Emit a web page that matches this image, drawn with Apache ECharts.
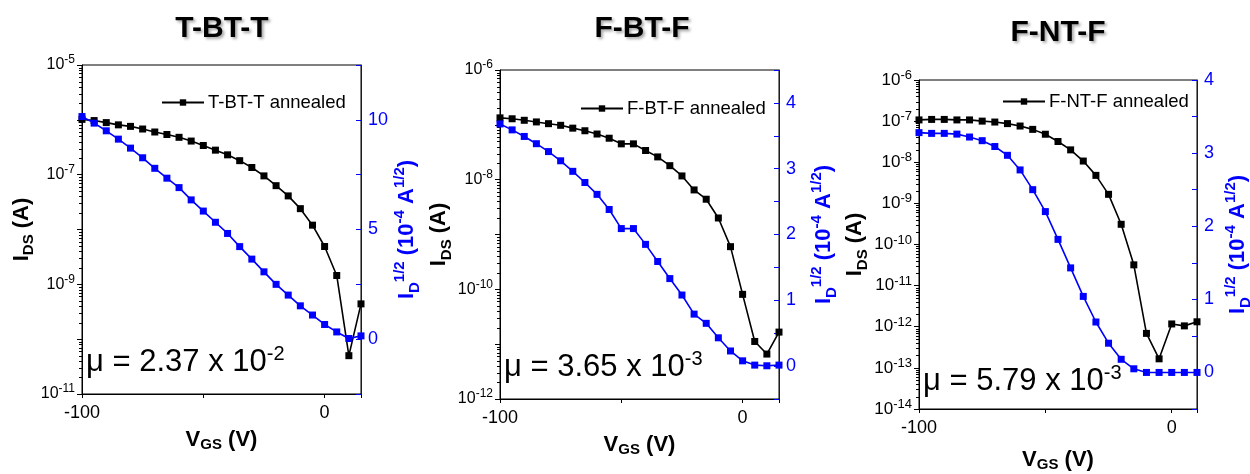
<!DOCTYPE html>
<html><head><meta charset="utf-8">
<script src="https://cdn.jsdelivr.net/npm/echarts@6/dist/echarts.min.js"></script>
<style>html,body{margin:0;padding:0;background:#fff}#c{width:1250px;height:474px}</style>
</head><body><div id="c"></div>
<script>
// ---- data ----
const titles = ['T-BT-T', 'F-BT-F', 'F-NT-F'];
const legendNames = ['T-BT-T annealed', 'F-BT-F annealed', 'F-NT-F annealed'];
const mobility = [['2.37', '-2'], ['3.65', '-3'], ['5.79', '-3']];

const vgs12 = [-100,-95,-90,-85,-80,-75,-70,-65,-60,-55,-50,-45,-40,-35,-30,-25,-20,-15,-10,-5,0,5,10,15];
const vgs3 = [-100,-95,-90,-85,-80,-75,-70,-65,-60,-55,-50,-45,-40,-35,-30,-25,-20,-15,-10,-5,0,5,10];

const ids1 = [1.02e-6,9.7e-7,8.9e-7,8.1e-7,7.6e-7,6.8e-7,6.0e-7,5.4e-7,4.8e-7,4.1e-7,3.4e-7,2.8e-7,2.3e-7,1.8e-7,1.35e-7,9.5e-8,6.3e-8,4.1e-8,2.4e-8,1.2e-8,4.9e-9,1.45e-9,5.0e-11,4.4e-10];
const sqrt1 = [10.15,9.85,9.50,9.12,8.71,8.27,7.79,7.34,6.91,6.35,5.84,5.33,4.82,4.22,3.65,3.07,2.50,2.01,1.52,1.10,0.67,0.33,0.03,0.15];

const ids2 = [1.34e-7,1.29e-7,1.21e-7,1.13e-7,1.05e-7,9.8e-8,8.7e-8,7.8e-8,6.8e-8,5.7e-8,4.5e-8,4.5e-8,3.4e-8,2.6e-8,1.8e-8,1.17e-8,6.5e-9,4.4e-9,2.0e-9,6.0e-10,8.1e-11,1.12e-11,6.6e-12,1.66e-11];
const sqrt2 = [3.68,3.59,3.49,3.38,3.26,3.12,2.96,2.79,2.61,2.38,2.09,2.09,1.85,1.59,1.33,1.08,0.79,0.65,0.43,0.23,0.08,0.015,0.005,0.015];

const ids3 = [1.07e-7,1.1e-7,1.1e-7,1.07e-7,1.07e-7,1.0e-7,9.5e-8,8.7e-8,7.6e-8,6.3e-8,4.8e-8,3.2e-8,2.0e-8,1.07e-8,4.8e-9,1.66e-9,3.1e-10,3.2e-11,6.9e-13,1.66e-13,1.17e-12,1.05e-12,1.32e-12];
const sqrt3 = [3.28,3.27,3.27,3.26,3.22,3.17,3.09,2.97,2.77,2.50,2.20,1.82,1.43,1.04,0.69,0.40,0.18,0.05,0.0,0.0,0.0,0.0,0.0];

const xMax = [15, 15, 10];
const logExpMin = [-11, -12, -14];
const logExpMax = [-5, -6, -6];
const logLabelParity = [1, 0, null]; // which exponents get a label (odd / even / all)
const rightMin = [-2.5, -0.5, -0.5];
const rightMax = [12.5, 4.5, 4];
const rightStep = [2.5, 0.5, 0.5];
const rightLabelStep = [5, 1, 1];
const minorMantissas = [2, 3, 4, 5, 6, 7, 8, 9];

// ---- layout ----
const grids = [
  {left: 82, top: 65, width: 279, height: 329},
  {left: 500, top: 70, width: 279, height: 329},
  {left: 919, top: 80, width: 278, height: 329}
];
const FONT = '"Liberation Sans", Arial, sans-serif';
const BLUE = '#0000ff';

const xsList = [vgs12, vgs12, vgs3];
const idsList = [ids1, ids2, ids3];
const sqrtList = [sqrt1, sqrt2, sqrt3];

const option = {
  animation: false,
  backgroundColor: '#fff',
  textStyle: {fontFamily: FONT},
  grid: grids.map(g => Object.assign({show: true, borderColor: '#000', borderWidth: 1,
    backgroundColor: 'transparent', containLabel: false, outerBoundsMode: 'none'}, g)),
  legend: [],
  xAxis: [], yAxis: [], series: [], graphic: []
};

const nameRich = {
  b: {fontSize: 22, fontWeight: 'bold', fontFamily: FONT, lineHeight: 30},
  sub: {fontSize: 15, fontWeight: 'bold', fontFamily: FONT, verticalAlign: 'bottom', lineHeight: 22},
  sup: {fontSize: 15, fontWeight: 'bold', fontFamily: FONT, verticalAlign: 'top', lineHeight: 18}
};
const xNameRich = {
  b: {fontSize: 22, fontWeight: 'bold', fontFamily: FONT, lineHeight: 24},
  sub: {fontSize: 15, fontWeight: 'bold', fontFamily: FONT, verticalAlign: 'bottom', lineHeight: 18}
};
function tickRich(big) {
  return {
    n: {fontSize: big ? 17 : 16, fontFamily: FONT, color: '#000', lineHeight: 22},
    s: {fontSize: big ? 13 : 12, fontFamily: FONT, color: '#000', verticalAlign: 'top', lineHeight: 12}
  };
}

for (let i = 0; i < 3; i++) {
  const logMin = Math.pow(10, logExpMin[i]);
  const logMax = Math.pow(10, logExpMax[i]);
  option.xAxis.push({
    gridIndex: i, type: 'value', min: -100, max: xMax[i], interval: 50,
    axisLine: {show: true, onZero: false, lineStyle: {color: '#000', width: 1}},
    axisTick: {show: true, inside: false, length: 4, lineStyle: {color: '#000'}},
    axisLabel: {fontSize: 18, color: '#000', fontFamily: FONT, margin: 10,
      formatter: v => (v === -100 || v === 0) ? String(v) : ''},
    splitLine: {show: false},
    name: '{b|V}{sub|GS}{b| (V)}', nameLocation: 'middle', nameGap: [34, 34, 39][i],
    nameTextStyle: {color: '#000', rich: xNameRich}
  });
  const par = logLabelParity[i];
  option.yAxis.push({
    gridIndex: i, type: 'log', logBase: 10, min: logMin, max: logMax,
    splitNumber: logExpMax[i] - logExpMin[i],
    position: 'left',
    axisLine: {show: true, onZero: false, lineStyle: {color: '#000', width: 1}},
    axisTick: {show: true, inside: false, length: 5, lineStyle: {color: '#000'}},
    axisLabel: {margin: 7, rich: tickRich(i === 2), formatter: v => {
      const e = Math.round(Math.log10(v));
      if (par !== null && Math.abs(e) % 2 !== par) return '';
      return '{n|10}{s|' + e + '}';
    }},
    splitLine: {show: false},
    name: '{b|I}{sub|DS}{b| (A)}', nameLocation: 'middle', nameRotate: 90,
    nameGap: [43, 42, 48][i],
    nameTextStyle: {color: '#000', rich: nameRich}
  });
  const rs = rightLabelStep[i];
  option.yAxis.push({
    gridIndex: i, type: 'value', min: rightMin[i], max: rightMax[i], interval: rightStep[i],
    position: 'right',
    axisLine: {show: true, onZero: false, lineStyle: {color: BLUE, width: 1}},
    axisTick: {show: true, inside: true, length: 5, lineStyle: {color: BLUE}},
    axisLabel: {fontSize: 18, color: BLUE, fontFamily: FONT, margin: 7,
      formatter: v => {
        const k = v / rs;
        return (v >= 0 && Math.abs(k - Math.round(k)) < 1e-6) ? String(Math.round(v * 100) / 100) : '';
      }},
    splitLine: {show: false},
    name: '{b|I}{sub|D}{sup|1/2}{b| (10}{sup|-4}{b| A}{sup|1/2}{b|)}',
    nameLocation: 'middle', nameRotate: 90, nameGap: [31, 30, 26][i],
    nameTextStyle: {color: BLUE, rich: {
      b: Object.assign({}, nameRich.b, {color: BLUE}),
      sub: Object.assign({}, nameRich.sub, {color: BLUE}),
      sup: Object.assign({}, nameRich.sup, {color: BLUE})
    }}
  });

  // minor log ticks on the left axis (2..9 x 10^e), placed through the axis scale
  const minorTicks = [];
  for (let e = logExpMin[i]; e < logExpMax[i]; e++) {
    minorMantissas.forEach(m => minorTicks.push([-100, m * Math.pow(10, e)]));
  }
  option.series.push({
    type: 'custom', xAxisIndex: i, yAxisIndex: 2 * i, silent: true, clip: false, z: 1,
    data: minorTicks,
    renderItem: (params, api) => {
      const p = api.coord([api.value(0), api.value(1)]);
      const y = Math.round(p[1]) + 0.5;
      return {type: 'line', shape: {x1: p[0] - 3, y1: y, x2: p[0], y2: y},
        style: {stroke: '#000', lineWidth: 1}};
    }
  });

  const xs = xsList[i];
  option.series.push({
    name: legendNames[i], type: 'line', xAxisIndex: i, yAxisIndex: 2 * i,
    data: xs.map((x, k) => [x, idsList[i][k]]),
    symbol: 'rect', symbolSize: 7, showSymbol: true,
    lineStyle: {color: '#000', width: 1.6}, itemStyle: {color: '#000'}, z: 3
  });
  option.series.push({
    name: legendNames[i] + ' sqrt', type: 'line', xAxisIndex: i, yAxisIndex: 2 * i + 1,
    data: xs.map((x, k) => [x, sqrtList[i][k]]),
    symbol: 'rect', symbolSize: 7, showSymbol: true,
    lineStyle: {color: BLUE, width: 1.6}, itemStyle: {color: BLUE}, z: 4
  });
  option.legend.push({
    data: [legendNames[i]], left: grids[i].left + [79, 80, 83][i], top: grids[i].top + [28, 29, 12][i],
    itemWidth: 42, itemHeight: 8, itemGap: 0, padding: 0,
    textStyle: {fontSize: 18.5, color: '#000', fontFamily: FONT, padding: [0, 0, 0, -1]}
  });
  option.graphic.push({
    type: 'text',
    x: [222, 642, 1058][i], y: [29, 29, 33][i],
    style: {text: titles[i], fill: '#000', font: 'bold 30px ' + FONT,
      align: 'center', verticalAlign: 'middle',
      textShadowColor: 'rgba(0,0,0,0.35)', textShadowBlur: 3, textShadowOffsetX: 2, textShadowOffsetY: 2}
  });
  option.graphic.push({
    type: 'text',
    x: grids[i].left + 4, y: [362, 367, 381][i],
    style: {text: '{m|μ = ' + mobility[i][0] + ' x 10}{s|' + mobility[i][1] + '}',
      verticalAlign: 'middle',
      rich: {m: {fontSize: 31, fontFamily: FONT, fill: '#000', lineHeight: 36},
             s: {fontSize: 20, fontFamily: FONT, fill: '#000', verticalAlign: 'top', lineHeight: 20}}}
  });
}

const chart = echarts.init(document.getElementById('c'), null, {renderer: 'canvas'});
chart.setOption(option);
</script>
</body></html>
